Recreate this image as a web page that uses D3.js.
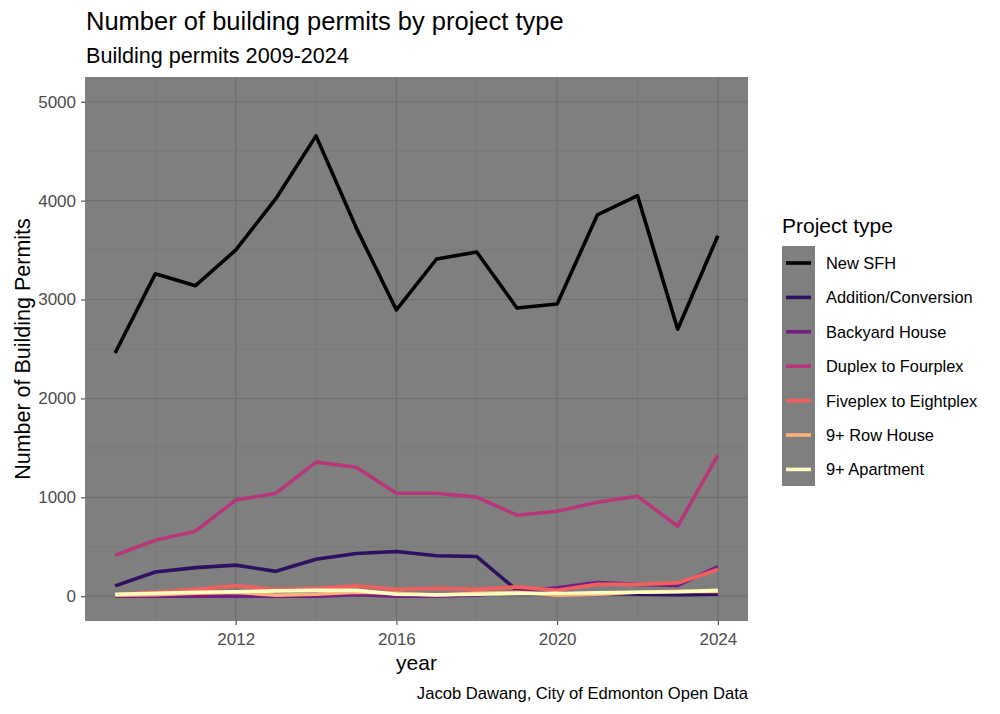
<!DOCTYPE html>
<html>
<head>
<meta charset="utf-8">
<script src="https://cdn.jsdelivr.net/npm/d3@7"></script>
<style>
  body { margin: 0; background: #fff; }
  svg { font-family: "Liberation Sans", Arial, sans-serif; }
</style>
</head>
<body>
<div id="chart"></div>
<script>
// data
let years = [2009, 2010, 2011, 2012, 2013, 2014, 2015, 2016, 2017, 2018, 2019, 2020, 2021, 2022, 2023, 2024];
let projectTypes = ["New SFH", "Addition/Conversion", "Backyard House", "Duplex to Fourplex",
                    "Fiveplex to Eightplex", "9+ Row House", "9+ Apartment"];

let newSfh      = [2460, 3260, 3140, 3500, 4020, 4655, 3725, 2895, 3410, 3480, 2915, 2955, 3855, 4050, 2700, 3645];
let addition    = [105, 245, 290, 315, 252, 374, 432, 452, 410, 402, 60, 40, 30, 20, 15, 20];
let backyard    = [0, 0, 0, 0, 0, 0, 15, 0, 0, 10, 50, 85, 140, 120, 110, 300];
let duplex      = [415, 567, 658, 972, 1042, 1356, 1305, 1042, 1042, 1002, 820, 860, 951, 1012, 708, 1427];
let fiveplex    = [20, 40, 70, 105, 70, 80, 105, 70, 80, 70, 95, 60, 120, 120, 135, 270];
let rowHouse    = [10, 15, 30, 40, 10, 20, 40, 30, 10, 30, 40, 10, 20, 40, 50, 50];
let apartment   = [20, 30, 40, 45, 55, 60, 60, 20, 15, 20, 30, 30, 35, 40, 45, 60];

let seriesValues = [newSfh, addition, backyard, duplex, fiveplex, rowHouse, apartment];
let lineColors = ["#000004", "#2D1160", "#721F81", "#B63679", "#F1605D", "#FEAF77", "#FCFDBF"];

let yTicks = [0, 1000, 2000, 3000, 4000, 5000];
let yMinor = [500, 1500, 2500, 3500, 4500];
let xTicks = [2012, 2016, 2020, 2024];
let xMinor = [2010, 2014, 2018, 2022];

let W = 1000, H = 714;
let panel = {left: 85, right: 748, top: 77, bottom: 621};

let svg = d3.select("#chart")
    .append("svg")
    .attr("width", W)
    .attr("height", H);

let xScale = d3.scaleLinear()
    .domain([2008.25, 2024.75])
    .range([panel.left, panel.right]);

let yScale = d3.scaleLinear()
    .domain([-250, 5250])
    .range([panel.bottom, panel.top]);

// panel
svg.append("rect")
    .attr("x", panel.left)
    .attr("y", panel.top)
    .attr("width", panel.right - panel.left)
    .attr("height", panel.bottom - panel.top)
    .attr("fill", "#7f7f7f");

let grid = svg.append("g");
grid.selectAll(".ymin").data(yMinor).enter().append("line")
    .attr("x1", panel.left).attr("x2", panel.right)
    .attr("y1", d => yScale(d)).attr("y2", d => yScale(d))
    .attr("stroke", "#747474").attr("stroke-width", 0.6);
grid.selectAll(".xmin").data(xMinor).enter().append("line")
    .attr("y1", panel.top).attr("y2", panel.bottom)
    .attr("x1", d => xScale(d)).attr("x2", d => xScale(d))
    .attr("stroke", "#747474").attr("stroke-width", 0.6);
grid.selectAll(".ymaj").data(yTicks).enter().append("line")
    .attr("x1", panel.left).attr("x2", panel.right)
    .attr("y1", d => yScale(d)).attr("y2", d => yScale(d))
    .attr("stroke", "#6e6e6e").attr("stroke-width", 1.1);
grid.selectAll(".xmaj").data(xTicks).enter().append("line")
    .attr("y1", panel.top).attr("y2", panel.bottom)
    .attr("x1", d => xScale(d)).attr("x2", d => xScale(d))
    .attr("stroke", "#6e6e6e").attr("stroke-width", 1.1);

// axes
let xAxis = d3.axisBottom(xScale).tickValues(xTicks).tickFormat(d3.format("d")).tickSize(4).tickPadding(8);
let yAxis = d3.axisLeft(yScale).tickValues(yTicks).tickFormat(d3.format("d")).tickSize(4).tickPadding(5);

let gx = svg.append("g")
    .attr("transform", "translate(0," + panel.bottom + ")")
    .call(xAxis);
let gy = svg.append("g")
    .attr("transform", "translate(" + panel.left + ",0)")
    .call(yAxis);

[gx, gy].forEach(g => {
    g.select(".domain").remove();
    g.selectAll(".tick line").attr("stroke", "#333333").attr("stroke-width", 1);
    g.selectAll(".tick text").attr("fill", "#4d4d4d").style("font-size", "17px").style("font-family", "Liberation Sans, Arial, sans-serif");
});

// lines
let line = d3.line()
    .x((d, i) => xScale(years[i]))
    .y(d => yScale(d));

svg.append("g").selectAll("path")
    .data(seriesValues)
    .enter()
    .append("path")
    .attr("d", d => line(d))
    .attr("fill", "none")
    .attr("stroke", (d, i) => lineColors[i])
    .attr("stroke-width", 3.6)
    .attr("stroke-linejoin", "round");

// titles
svg.append("text")
    .attr("x", 86).attr("y", 30)
    .style("font-size", "25.5px")
    .text("Number of building permits by project type");

svg.append("text")
    .attr("x", 86).attr("y", 63)
    .style("font-size", "21.6px")
    .text("Building permits 2009-2024");

svg.append("text")
    .attr("x", (panel.left + panel.right) / 2).attr("y", 670)
    .attr("text-anchor", "middle")
    .style("font-size", "21px")
    .text("year");

svg.append("text")
    .attr("transform", "translate(30," + ((panel.top + panel.bottom) / 2) + ") rotate(-90)")
    .attr("text-anchor", "middle")
    .style("font-size", "21.5px")
    .text("Number of Building Permits");

svg.append("text")
    .attr("x", panel.right).attr("y", 699)
    .attr("text-anchor", "end")
    .style("font-size", "16.6px")
    .text("Jacob Dawang, City of Edmonton Open Data");

// legend
let legend = svg.append("g").attr("transform", "translate(782,0)");

legend.append("text")
    .attr("x", 0).attr("y", 233)
    .style("font-size", "21px")
    .text("Project type");

legend.append("rect")
    .attr("x", 0).attr("y", 246)
    .attr("width", 33).attr("height", 240)
    .attr("fill", "#7f7f7f");

let keys = legend.selectAll(".key")
    .data(projectTypes)
    .enter()
    .append("g")
    .attr("transform", (d, i) => "translate(0," + (263 + i * 34.4) + ")");

keys.append("line")
    .attr("x1", 4).attr("x2", 29)
    .attr("y1", 0).attr("y2", 0)
    .attr("stroke", (d, i) => lineColors[i])
    .attr("stroke-width", 3.6);

keys.append("text")
    .attr("x", 44).attr("y", 6)
    .style("font-size", "16.4px")
    .text(d => d);
</script>
</body>
</html>
